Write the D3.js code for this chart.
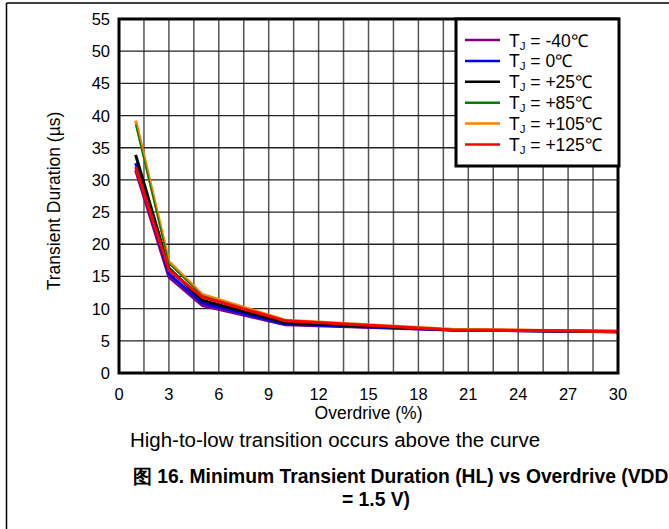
<!DOCTYPE html>
<html>
<head>
<meta charset="utf-8">
<script src="https://cdn.jsdelivr.net/npm/d3@7"></script>
<style>
  body { margin: 0; background: #fff; }
  text { font-family: "Liberation Sans", Arial, sans-serif; }
</style>
</head>
<body>
<svg id="chart" width="669" height="529"></svg>
<script>
"use strict";

// overdrive (%) sample points
var overdrive = [1, 3, 5, 10, 20, 30];

// series
var seriesNames = ["-40\u2103", "0\u2103", "+25\u2103", "+85\u2103", "+105\u2103", "+125\u2103"];
var seriesColors = ["#800080", "#0000ff", "#000000", "#008000", "#ff7f00", "#ff0000"];
var tm40 = [31.5, 14.9, 10.5, 7.5, 6.7, 6.4];
var t0 = [32.6, 15.4, 10.9, 7.6, 6.7, 6.4];
var t25 = [33.9, 16.3, 11.3, 7.8, 6.7, 6.4];
var t85 = [38.6, 17.0, 12.0, 8.1, 6.8, 6.5];
var t105 = [39.2, 17.3, 12.2, 8.2, 6.8, 6.5];
var t125 = [32.0, 16.0, 11.8, 8.1, 6.7, 6.5];
var seriesValues = [tm40, t0, t25, t85, t105, t125];
var seriesWidths = [3, 3, 3, 1.5, 3, 3];

var xTicks = [0, 3, 6, 9, 12, 15, 18, 21, 24, 27, 30];
var yTicks = [0, 5, 10, 15, 20, 25, 30, 35, 40, 45, 50, 55];

var svg = d3.select("#chart");

// page frame
svg.append("line").attr("x1", 6.5).attr("y1", 3).attr("x2", 669).attr("y2", 3)
    .attr("stroke", "black").attr("stroke-width", 1.5);
svg.append("line").attr("x1", 6.5).attr("y1", 3).attr("x2", 6.5).attr("y2", 529)
    .attr("stroke", "black").attr("stroke-width", 1.5);

var plotL = 119, plotT = 19, plotR = 618, plotB = 373;

var x = d3.scaleLinear().domain([0, 30]).range([plotL, plotR]);
var y = d3.scaleLinear().domain([0, 55]).range([plotB, plotT]);

// grid
var g = svg.append("g");
g.selectAll("line.vg")
    .data(d3.range(1, 20).map(function (i) { return i * 1.5; }))
    .enter().append("line")
    .attr("x1", function (d) { return x(d); })
    .attr("x2", function (d) { return x(d); })
    .attr("y1", plotT).attr("y2", plotB)
    .attr("stroke", "#555").attr("stroke-width", 1.5);

g.selectAll("line.hg")
    .data(yTicks.slice(1, -1))
    .enter().append("line")
    .attr("x1", plotL).attr("x2", plotR)
    .attr("y1", function (d) { return y(d); })
    .attr("y2", function (d) { return y(d); })
    .attr("stroke", "#222").attr("stroke-width", 1.3);

// curves
var line = d3.line()
    .x(function (d, i) { return x(overdrive[i]); })
    .y(function (d) { return y(d); });

// draw order so that red ends on top like the picture
var order = [0, 1, 2, 4, 3, 5];
order.forEach(function (k) {
    svg.append("path")
        .attr("d", line(seriesValues[k]))
        .attr("fill", "none")
        .attr("stroke", seriesColors[k])
        .attr("stroke-width", seriesWidths[k])
        .attr("stroke-linejoin", "round");
});

// plot border
svg.append("rect")
    .attr("x", plotL).attr("y", plotT)
    .attr("width", plotR - plotL).attr("height", plotB - plotT)
    .attr("fill", "none").attr("stroke", "black").attr("stroke-width", 3);

// tick labels
svg.selectAll("text.xt")
    .data(xTicks).enter().append("text")
    .attr("x", function (d) { return x(d); })
    .attr("y", 400)
    .attr("text-anchor", "middle")
    .attr("font-size", 16.5)
    .text(function (d) { return d; });

svg.selectAll("text.yt")
    .data(yTicks).enter().append("text")
    .attr("x", 110)
    .attr("y", function (d) { return y(d) + 6; })
    .attr("text-anchor", "end")
    .attr("font-size", 16.5)
    .text(function (d) { return d; });

// axis titles
svg.append("text")
    .attr("x", (plotL + plotR) / 2).attr("y", 419)
    .attr("text-anchor", "middle").attr("font-size", 17.5)
    .text("Overdrive (%)");

svg.append("text")
    .attr("transform", "translate(60,201) rotate(-90)")
    .attr("text-anchor", "middle").attr("font-size", 17.5)
    .text("Transient Duration (\u00b5s)");

// legend
var lg = svg.append("g");
lg.append("rect")
    .attr("x", 456).attr("y", 19).attr("width", 163).attr("height", 147)
    .attr("fill", "white").attr("stroke", "black").attr("stroke-width", 3);

seriesNames.forEach(function (name, i) {
    var ly = 40 + i * 20.9;
    lg.append("line")
        .attr("x1", 465).attr("x2", 500).attr("y1", ly).attr("y2", ly)
        .attr("stroke", seriesColors[i]).attr("stroke-width", 2.5);
    var t = lg.append("text")
        .attr("x", 509).attr("y", ly + 6.5)
        .attr("font-size", 17.5);
    t.append("tspan").text("T");
    t.append("tspan").attr("font-size", 11.5).attr("dy", 3).text("J");
    t.append("tspan").attr("dy", -3).text(" = " + name);
});

// notes
svg.append("text")
    .attr("x", 335).attr("y", 447)
    .attr("text-anchor", "middle").attr("font-size", 20.5)
    .text("High-to-low transition occurs above the curve");

svg.append("text")
    .attr("x", 133).attr("y", 483)
    .attr("font-size", 19.3).attr("font-weight", "bold")
    .text("\u56fe 16. Minimum Transient Duration (HL) vs Overdrive (VDD");

svg.append("text")
    .attr("x", 376).attr("y", 506)
    .attr("text-anchor", "middle")
    .attr("font-size", 19.3).attr("font-weight", "bold")
    .text("= 1.5 V)");
</script>
</body>
</html>
